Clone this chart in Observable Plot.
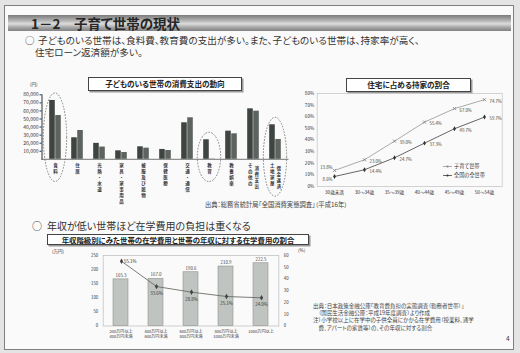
<!DOCTYPE html>
<html><head><meta charset="utf-8">
<script src="https://cdn.jsdelivr.net/npm/d3@7"></script>
<script src="https://cdn.jsdelivr.net/npm/@observablehq/plot@0.6"></script>
<style>
html,body{margin:0;padding:0;width:520px;height:353px;overflow:hidden;background:#e4e4e4;
  font-family:"Noto Sans CJK JP","Noto Sans",sans-serif;font-feature-settings:"palt";color:#333;}
.abs{position:absolute;white-space:nowrap;}
#slide{position:absolute;left:4px;top:5px;width:508px;height:343px;background:#fafafa;border:1px solid #7f7f7f;}
#titlebar{position:absolute;left:8px;top:15px;width:503px;height:16px;
  background:linear-gradient(#7a7a7a,#b3b3b3 35%,#dcdcdc 55%,#a0a0a0 80%,#828282);}
.box{position:absolute;background:#fff;border:1px solid #444;box-shadow:1.5px 1.5px 0 #999;
  font-weight:bold;text-align:center;white-space:nowrap;color:#222;}
.plot{position:absolute;}
.plot svg{overflow:visible;}
</style></head>
<body>
<div id="slide"></div>
<div id="titlebar"></div>
<div class="abs" style="left:31px;top:15px;height:16px;line-height:16px;font-size:13.5px;font-weight:bold;color:#262626;">1－2　子育て世帯の現状</div>
<div class="abs" style="left:25px;top:34.5px;line-height:11px;font-size:9.5px;">○</div>
<div class="abs" id="sub1" style="left:38px;top:34.5px;line-height:11px;font-size:9.6px;"></div>
<div class="abs" id="sub2" style="left:35px;top:47px;line-height:11px;font-size:9.6px;"></div>

<div class="box" id="t1" style="left:88px;top:77px;width:152px;height:12px;line-height:12px;font-size:7.6px;"></div>
<div class="plot" id="bars" style="left:0px;top:80px;"></div>
<div class="abs" style="left:30px;top:82px;font-size:4.5px;line-height:5px;">(円)</div>

<div class="box" id="t2" style="left:346px;top:78px;width:123px;height:12px;line-height:12px;font-size:7.6px;"></div>
<div class="plot" id="lines" style="left:290px;top:88px;"></div>
<div class="abs" id="legend" style="left:443px;top:161px;font-size:5.2px;line-height:9px;"></div>

<div class="abs" id="src1" style="left:205px;top:201px;font-size:6.3px;line-height:8px;color:#444;"></div>

<div class="abs" style="left:32px;top:219px;line-height:13px;font-size:10px;">○</div>
<div class="abs" id="sub3" style="left:47px;top:219px;line-height:13px;font-size:10px;"></div>
<div class="box" id="t3" style="left:47px;top:234px;width:260px;height:9px;line-height:9px;font-size:7.4px;"></div>
<div class="plot" id="edu1" style="left:40px;top:245px;"></div>
<div class="plot" id="edu2" style="left:40px;top:245px;"></div>
<div class="abs" style="left:52px;top:249px;font-size:4.5px;line-height:5px;">(万円)</div>
<div class="abs" style="left:298px;top:248px;font-size:4.5px;line-height:5px;">(%)</div>
<div class="abs" id="notes" style="left:313px;top:303px;font-size:5.5px;line-height:7.2px;color:#444;"></div>
<div class="abs" style="left:506px;top:334px;font-size:6.5px;line-height:8px;">4</div>

<script>
// ---------- texts ----------
const pageTitle = "1－2　子育て世帯の現状";
const subtitle1 = "子どものいる世帯は、食料費、教育費の支出が多い。また、子どものいる世帯は、持家率が高く、";
const subtitle2 = "住宅ローン返済額が多い。";
const subtitle3 = "年収が低い世帯ほど在学費用の負担は重くなる";
const chart1Title = "子どものいる世帯の消費支出の動向";
const chart2Title = "住宅に占める持家の割合";
const chart3Title = "年収階級別にみた世帯の在学費用と世帯の年収に対する在学費用の割合";
const source1 = "出典：総務省統計局「全国消費実態調査」（平成16年）";
const notes = [
  "出典：日本政策金融公庫「教育費負担の実態調査（勤務者世帯）」",
  "　（国民生活金融公庫：平成19年度調査）より作成",
  "注）小学校以上に在学中の子供全員にかかる在学費用（授業料、通学",
  "　費、アパートの家賃等）の、その年収に対する割合"
];

// ---------- chart 1: consumption expenditure ----------
const categories = ["食料","住居","光熱・水道","家具・家事用品","被服及び履物","保健医療","交通・通信","教育","教養娯楽","その他の消費支出","土地家屋借金返済"];
const labelCol1 = ["食料","住居","光熱・水道","家具・家事用品","被服及び履物","保健医療","交通・通信","教育","教養娯楽","その他の","土地家屋"];
const labelCol2 = ["","","","","","","","","","消費支出","借金返済"];
const withChildren    = [73000, 26700, 19800, 10500, 15500, 12200, 45300, 24200, 34900, 62600, 42800];
const withoutChildren = [54300, 35700, 15200,  8400, 13800, 10900, 51500,   300, 31600, 59700, 24600];
const yTicks1 = [10000,20000,30000,40000,50000,60000,70000,80000];
const highlighted = ["食料","教育","土地家屋借金返済"];

// ---------- chart 2: home ownership ----------
const ageGroups = ["30歳未満","30〜34歳","35〜39歳","40〜44歳","45〜49歳","50〜54歳"];
const ownChildren = [13.8, 23.0, 39.0, 55.4, 67.0, 74.7];
const ownAll      = [ 8.6, 14.4, 24.7, 37.3, 49.7, 59.7];
const seriesNames = ["子育て世帯","全国の全世帯"];
const yTicks2 = [0,10,20,30,40,50,60,70,80];

// ---------- chart 3: education cost ----------
const incomeGroups = ["200万円以上\n400万円未満","400万円以上\n600万円未満","600万円以上\n800万円未満","800万円以上\n1000万円未満","1000万円以上"];
const eduCost  = [165.3, 167.0, 190.6, 210.9, 222.5];
const eduShare = [55.1, 33.6, 28.8, 25.1, 24.0];
const yTicks3L = [0,50,100,150,200,250];
const yTicks3R = [0,10,20,30,40,50,60];

const FONT = '"Noto Sans CJK JP","Noto Sans",sans-serif';
document.getElementById("sub1").textContent = subtitle1;
document.getElementById("sub2").textContent = subtitle2;
document.getElementById("sub3").textContent = subtitle3;
document.getElementById("t1").textContent = chart1Title;
document.getElementById("t2").textContent = chart2Title;
document.getElementById("t3").textContent = chart3Title;
document.getElementById("src1").textContent = source1;
document.getElementById("notes").innerHTML = notes.map(s => `<div>${s}</div>`).join("");

// ----- bar chart -----
const colA = "#3e4440", colB = "#5d635f";
const vert = s => Array.from(s).join("\n");
const barData = categories.map((c, i) => ({cat: c, a: withChildren[i], b: withoutChildren[i],
  l1: vert(labelCol1[i]), l2: vert(labelCol2[i]), two: labelCol2[i] !== ""}));
const LF = 4.5, LH = 1.3;
const barPlot = Plot.plot({
  width: 300, height: 140,
  marginLeft: 41.5, marginRight: 11.5, marginTop: 14.3, marginBottom: 61.2,
  style: {fontFamily: FONT, fontSize: "5px", background: "transparent", color: "#333", overflow: "visible"},
  x: {domain: categories, padding: 0, axis: null},
  y: {domain: [0, 80000], ticks: yTicks1, tickFormat: d3.format(","), tickSize: 2, tickPadding: 1.5, label: null, line: true},
  marks: [
    Plot.barY(barData, {x: "cat", y: "a", fill: colA, insetLeft: 5.2, insetRight: 11.23}),
    Plot.barY(barData, {x: "cat", y: "b", fill: colB, insetLeft: 11.23, insetRight: 5.2}),
    Plot.ruleY([0], {stroke: "#555", strokeWidth: 0.8}),
    Plot.text(barData.filter(d => !d.two), {x: "cat", text: "l1", frameAnchor: "bottom", lineAnchor: "top", dy: 4, fontSize: LF, lineHeight: LH, fill: "#333", fontWeight: "bold"}),
    Plot.text(barData.filter(d => d.two), {x: "cat", text: "l1", frameAnchor: "bottom", lineAnchor: "top", dy: 4, dx: -3.3, fontSize: LF, lineHeight: LH, fill: "#333", fontWeight: "bold"}),
    Plot.text(barData.filter(d => d.two), {x: "cat", text: "l2", frameAnchor: "bottom", lineAnchor: "top", dy: 6.5, dx: 3.3, fontSize: LF, lineHeight: LH, fill: "#333", fontWeight: "bold"})
  ]
});
document.getElementById("bars").appendChild(barPlot);
{
  const xs = barPlot.scale("x"), ys = barPlot.scale("y");
  const svg = d3.select(barPlot);
  highlighted.forEach(c => {
    const i = categories.indexOf(c);
    const cx = xs.apply(c) + xs.bandwidth / 2;
    const top = ys.apply(Math.max(withChildren[i], withoutChildren[i])) - 7;
    const lines = Math.max(labelCol1[i].length, labelCol2[i].length + 0.5);
    const bottom = ys.apply(0) + lines * LF * LH + 11;
    svg.append("ellipse").attr("cx", cx).attr("cy", (top + bottom) / 2)
      .attr("rx", xs.bandwidth * 0.53).attr("ry", (bottom - top) / 2)
      .attr("fill", "none").attr("stroke", "#666").attr("stroke-width", 0.8).attr("stroke-dasharray", "1.6,1.4");
  });
}

// ----- line chart -----
const lineData = [];
ageGroups.forEach((g, i) => {
  lineData.push({age: g, v: ownChildren[i], s: seriesNames[0], i});
  lineData.push({age: g, v: ownAll[i], s: seriesNames[1], i});
});
const fmtPct = v => d3.format(".1f")(v) + "%";
const upColor = "#a2a2a2", loColor = "#555";
const linePlot = Plot.plot({
  width: 225, height: 110,
  marginLeft: 26.7, marginRight: 13.3, marginTop: 5, marginBottom: 12,
  style: {fontFamily: FONT, fontSize: "4.6px", background: "transparent", color: "#333", overflow: "visible"},
  x: {domain: ageGroups, type: "point", padding: 0.5, label: null, tickSize: 0, tickPadding: 4},
  y: {domain: [0, 80], ticks: yTicks2, tickFormat: d => d + "%", tickSize: 0, tickPadding: 3, label: null},
  marks: [
    Plot.frame({stroke: "#c8c8c8", strokeWidth: 0.8}),
    Plot.line(lineData.filter(d => d.s === seriesNames[0]), {x: "age", y: "v", stroke: upColor, strokeWidth: 0.9}),
    Plot.line(lineData.filter(d => d.s === seriesNames[1]), {x: "age", y: "v", stroke: loColor, strokeWidth: 0.9}),
    Plot.dot(lineData.filter(d => d.s === seriesNames[0]), {x: "age", y: "v", symbol: "times", r: 1.6, stroke: "#777", strokeWidth: 0.7}),
    Plot.dot(lineData.filter(d => d.s === seriesNames[1]), {x: "age", y: "v", symbol: "diamond", r: 1.5, fill: "#333", stroke: null}),
    Plot.text(lineData.filter(d => d.i > 0), {x: "age", y: "v", text: d => fmtPct(d.v), textAnchor: "start", dx: 5, dy: 1.5, fontSize: 4.3, fill: "#444"}),
    Plot.text(lineData.filter(d => d.i === 0 && d.s === seriesNames[0]), {x: "age", y: "v", text: d => fmtPct(d.v), textAnchor: "end", dx: -2, dy: -2.5, fontSize: 4.3, fill: "#444"}),
    Plot.text(lineData.filter(d => d.i === 0 && d.s === seriesNames[1]), {x: "age", y: "v", text: d => fmtPct(d.v), textAnchor: "end", dx: -2, dy: 3.5, fontSize: 4.3, fill: "#444"})
  ]
});
document.getElementById("lines").appendChild(linePlot);
document.getElementById("legend").innerHTML = seriesNames.map((n, k) =>
  `<div><svg width="9" height="5" style="vertical-align:middle;margin-right:2px"><line x1="0" y1="2.5" x2="9" y2="2.5" stroke="${k ? loColor : upColor}" stroke-width="0.9"/><circle cx="4.5" cy="2.5" r="1.1" fill="${k ? '#333' : '#888'}"/></svg>${n}</div>`).join("");

// ----- education chart -----
const eduData = incomeGroups.map((g, i) => ({g, cost: eduCost[i], share: eduShare[i]}));
const common = {
  width: 260, height: 100, marginLeft: 62.7, marginRight: 21.7, marginTop: 10, marginBottom: 19.5,
  style: {fontFamily: FONT, fontSize: "4.3px", background: "transparent", color: "#333", overflow: "visible"}
};
const xAxisMark = Plot.axisX
  ? Plot.axisX({tickSize: 0, tickPadding: 3, fontSize: 4.1, lineHeight: 1.3, label: null})
  : Plot.text(incomeGroups, {x: d => d, text: d => d, frameAnchor: "bottom", lineAnchor: "top", dy: 3, fontSize: 4.1, lineHeight: 1.3});
const eduBars = Plot.plot({
  ...common,
  x: {domain: incomeGroups, paddingInner: 0.57, paddingOuter: 0.285, label: null, axis: null},
  y: {domain: [0, 250], ticks: yTicks3L, tickSize: 0, tickPadding: 5, label: null},
  marks: [
    Plot.frame({stroke: "#c4c4c4", strokeWidth: 0.8}),
    Plot.barY(eduData, {x: "g", y: "cost", fill: "#c0c4c0", stroke: "#8e928e", strokeWidth: 0.6}),
    Plot.text(eduData, {x: "g", y: "cost", text: d => d3.format(".1f")(d.cost), dy: -4, fontSize: 4.4, fill: "#444"}),
    xAxisMark
  ]
});
const eduLine = Plot.plot({
  ...common,
  x: {domain: incomeGroups, paddingInner: 0.57, paddingOuter: 0.285, axis: null},
  y: {domain: [0, 60], ticks: yTicks3R, axis: "right", tickSize: 0, tickPadding: 5, label: null},
  marks: [
    Plot.line(eduData, {x: "g", y: "share", stroke: "#6a6e6a", strokeWidth: 0.9}),
    Plot.dot(eduData, {x: "g", y: "share", symbol: "diamond", r: 1.7, fill: "#444", stroke: null}),
    Plot.text(eduData.slice(0, 1), {x: "g", y: "share", text: d => fmtPct(d.share), textAnchor: "start", dx: 2.5, dy: 0, fontSize: 4.4, fill: "#333"}),
    Plot.text(eduData.slice(1), {x: "g", y: "share", text: d => fmtPct(d.share), dy: 7, fontSize: 4.4, fill: "#333"})
  ]
});
document.getElementById("edu1").appendChild(eduBars);
document.getElementById("edu2").appendChild(eduLine);
</script>
</body></html>
